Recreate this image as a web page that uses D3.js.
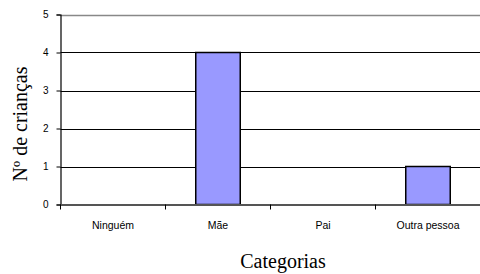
<!DOCTYPE html>
<html><head><meta charset="utf-8">
<script src="https://cdn.jsdelivr.net/npm/d3@7"></script>
<style>body{margin:0;background:#fff}svg{display:block}</style>
</head><body>
<script>
const categories = ["Ninguém", "Mãe", "Pai", "Outra pessoa"];
const values = [0, 4, 0, 1];
const yTicks = [0, 1, 2, 3, 4, 5];
const yTitle = "Nº de crianças";
const xTitle = "Categorias";

const W = 480, H = 274;
const m = {left: 60.5, right: -0.5, top: 14.5, bottom: 69.5};
const svg = d3.select("body").append("svg").attr("width", W).attr("height", H);

const x = d3.scaleBand().domain(categories).range([m.left, W - m.right]).paddingInner(0).paddingOuter(0);
const y = d3.scaleLinear().domain([0, 5]).range([H - m.bottom, m.top]);

// gridlines
svg.append("g").selectAll("line").data(yTicks.filter(d => d > 0)).join("line")
  .attr("x1", m.left).attr("x2", W)
  .attr("y1", d => Math.round(y(d)) + 0.5).attr("y2", d => Math.round(y(d)) + 0.5)
  .attr("stroke", d => d === 5 ? "#888" : "#000").attr("stroke-width", d => d === 5 ? 1.5 : 1);

// bars
const bw = 44.5;
svg.append("g").selectAll("rect").data(categories.map((c, i) => ({c, v: values[i]})).filter(d => d.v > 0)).join("rect")
  .attr("x", d => x(d.c) + x.bandwidth() / 2 - bw / 2)
  .attr("y", d => y(d.v))
  .attr("width", bw)
  .attr("height", d => y(0) - y(d.v))
  .attr("fill", "#9999FF").attr("stroke", "#000").attr("stroke-width", 1.5);

// y axis
const ya = svg.append("g").attr("transform", `translate(${m.left},0)`)
  .call(d3.axisLeft(y).tickValues(yTicks).tickFormat(d3.format("d")).tickSize(4).tickPadding(8));
ya.select(".domain").attr("stroke", "#000").attr("stroke-width", 1.2);
ya.selectAll("text").attr("font-family", "Liberation Sans, Arial, sans-serif").attr("font-size", 10).attr("fill", "#000");

// x axis
const xa = svg.append("g").attr("transform", `translate(0,${y(0)})`)
  .call(d3.axisBottom(x).tickSize(0).tickPadding(17));
xa.select(".domain").attr("stroke", "#555").attr("stroke-width", 1.8);
xa.selectAll("text").attr("font-family", "Liberation Sans, Arial, sans-serif").attr("font-size", 10.5).attr("fill", "#000");
// x boundary ticks
xa.append("g").selectAll("line").data(categories).join("line")
  .attr("x1", d => x(d)).attr("x2", d => x(d)).attr("y1", 0).attr("y2", 5)
  .attr("stroke", "#000").attr("stroke-width", 1);

// titles
svg.append("text").attr("x", 283).attr("y", 268).attr("text-anchor", "middle")
  .attr("font-family", "Liberation Serif, Times New Roman, serif").attr("font-size", 20).text(xTitle);
svg.append("text").attr("transform", "translate(27,124) rotate(-90)").attr("text-anchor", "middle")
  .attr("font-family", "Liberation Serif, Times New Roman, serif").attr("font-size", 20).text(yTitle);
</script>
</body></html>
